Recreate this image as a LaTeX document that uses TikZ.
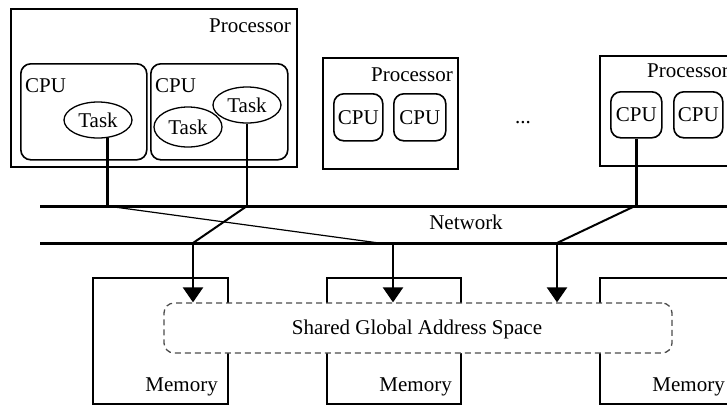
\documentclass[tikz,border=0pt]{standalone}
\usepackage{fontspec}
\setmainfont{Liberation Serif}
\usetikzlibrary{shapes.geometric,arrows.meta,calc}
\begin{document}
\begin{tikzpicture}[x=1pt,y=-1pt,
  font=\fontsize{21}{25}\selectfont,
  procbox/.style={draw,line width=2.3pt,inner sep=0pt,anchor=north west},
  cpubox/.style={draw,line width=1.6pt,rounded corners=10pt,inner sep=0pt,anchor=north west},
  taskell/.style={draw,ellipse,line width=1.3pt,inner sep=0pt},
  membox/.style={draw,line width=1.8pt,inner sep=0pt,anchor=north west},
  lbl/.style={inner sep=0pt},
  netline/.style={line width=3pt},
  wire/.style={line width=2.4pt},
  slant/.style={line width=2pt},
  thinwire/.style={line width=1.2pt},
  toarrow/.style={line width=2.4pt,-{Triangle[width=20pt,length=15pt]}},
  shared/.style={draw=black!70,dashed,dash pattern=on 6pt off 4pt,line width=1.3pt,
    rounded corners=10pt,fill=white,inner sep=0pt}
]
\useasboundingbox (0,0) rectangle (727,405);
\clip (0,0) rectangle (727,405);

% first processor with two CPUs and three tasks
\node[procbox,minimum width=286pt,minimum height=158pt] (proc1) at (10,8) {};
\node[lbl,anchor=base east] (proc1lbl) at (291,32) {Processor};
\node[cpubox,minimum width=126pt,minimum height=96pt] (cpu1) at (20,63) {};
\node[lbl,anchor=base west] (cpu1lbl) at (25,92) {CPU};
\node[cpubox,minimum width=137pt,minimum height=96pt] (cpu2) at (150,63) {};
\node[lbl,anchor=base west] (cpu2lbl) at (155,92) {CPU};
\node[taskell,minimum width=68pt,minimum height=36pt] (task1) at (98,120) {Task};
\node[taskell,minimum width=68pt,minimum height=40pt] (task2) at (188,127) {Task};
\node[taskell,minimum width=68pt,minimum height=36pt] (task3) at (247,105) {Task};

% second processor
\node[procbox,minimum width=135pt,minimum height=111pt] (proc2) at (322,57) {};
\node[lbl,anchor=base east] (proc2lbl) at (453,81) {Processor};
\node[cpubox,minimum width=49pt,minimum height=47pt] (cpu2a) at (333,93) {};
\node[lbl] (cpu2albl) at (cpu2a.center) {CPU};
\node[cpubox,minimum width=52pt,minimum height=47pt] (cpu2b) at (393,93) {};
\node[lbl] (cpu2blbl) at (cpu2b.center) {CPU};

\node[lbl,anchor=base] (dots) at (523,123) {...};

% last processor, running past the right edge
\node[procbox,minimum width=140pt,minimum height=110pt] (proc3) at (599,55) {};
\node[lbl,anchor=base west] (proc3lbl) at (647,77) {Processor};
\node[cpubox,minimum width=51pt,minimum height=46pt] (cpu3a) at (610,91) {};
\node[lbl] (cpu3albl) at (cpu3a.center) {CPU};
\node[cpubox,minimum width=49pt,minimum height=46pt] (cpu3b) at (673,91) {};
\node[lbl] (cpu3blbl) at (cpu3b.center) {CPU};

% network
\coordinate (ntL) at (40,206);
\coordinate (ntR) at (727,206);
\coordinate (nbL) at (40,243);
\coordinate (nbR) at (727,243);
\draw[netline] (ntL) -- (ntR);
\draw[netline] (nbL) -- (nbR);
\node[lbl,anchor=base] (netlbl) at (466,229) {Network};

% memories
\node[membox,minimum width=135pt,minimum height=126pt] (mem1) at (92,277) {};
\node[lbl,anchor=base east] (mem1lbl) at (218,391) {Memory};
\node[membox,minimum width=134pt,minimum height=126pt] (mem2) at (326,277) {};
\node[lbl,anchor=base east] (mem2lbl) at (452,391) {Memory};
\node[membox,minimum width=140pt,minimum height=126pt] (mem3) at (599,277) {};
\node[lbl,anchor=base east] (mem3lbl) at (725,391) {Memory};

% shared address space over the memories
\node[shared,minimum width=508pt,minimum height=50pt] (gas) at (418,328) {};
\node[lbl,anchor=base] (gaslbl) at (417,334) {Shared Global Address Space};

% junction points on the network
\coordinate (j1) at (107,206);
\coordinate (j2) at (247,206);
\coordinate (j3) at (635,206);
\coordinate (k1) at (193,243);
\coordinate (k2) at (379,243);
\coordinate (a2) at (393,243);
\coordinate (k3) at (557,243);

% connections
\draw[wire] (task1.-62) -- (task1.-62 |- j1);
\draw[thinwire] (j1) -- (k2);
\draw[toarrow] (a2) -- (a2 |- gas.north);

\draw[wire] (task3.south) -- (j2);
\draw[slant] (j2) -- (k1);
\draw[toarrow] (k1) -- (k1 |- gas.north);

\draw[wire] (cpu3a.south) -- (cpu3a.south |- j3);
\draw[slant] (j3) -- (k3);
\draw[toarrow] (k3) -- (k3 |- gas.north);
\end{tikzpicture}
\end{document}
